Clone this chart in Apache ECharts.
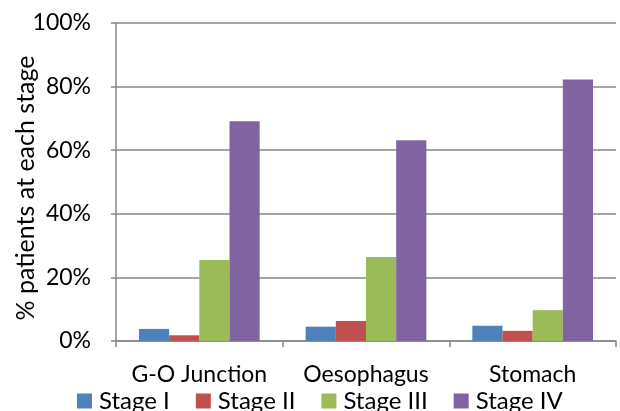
<!DOCTYPE html>
<html>
<head>
<meta charset="utf-8">
<script src="https://cdn.jsdelivr.net/npm/echarts@6/dist/echarts.min.js"></script>
<style>
  html, body { margin: 0; padding: 0; background: #fff; }
  #chart { width: 620px; height: 411px; }
</style>
</head>
<body>
<div id="chart"></div>
<script>
// Tumour site categories and stage distribution (% of patients)
const categories = ['G-O Junction', 'Oesophagus', 'Stomach'];
const stageNames = ['Stage I', 'Stage II', 'Stage III', 'Stage IV'];
const stageI   = [3.8, 4.5, 4.8];
const stageII  = [1.8, 6.3, 3.2];
const stageIII = [25.5, 26.4, 9.7];
const stageIV  = [69.1, 63.1, 82.2];
const yTicks = { min: 0, max: 100, step: 20 };

const colors = ['#4F81BD', '#C0504D', '#9BBB59', '#8064A2'];
const font = 'Lato, sans-serif';
const gridColor = '#878787';

const seriesValues = [stageI, stageII, stageIII, stageIV];

const chart = echarts.init(document.getElementById('chart'), null, { renderer: 'canvas' });
chart.setOption({
  animation: false,
  color: colors,
  grid: { left: 116, right: 4, top: 23, bottom: 70, containLabel: false, outerBoundsMode: 'none' },
  legend: {
    data: stageNames,
    left: 77,
    top: 389,
    padding: 0,
    itemWidth: 15,
    itemHeight: 15,
    itemGap: 26,
    icon: 'rect',
    textStyle: { fontFamily: font, fontSize: 24, color: '#000', padding: [0, 0, 0, 2] }
  },
  xAxis: {
    type: 'category',
    data: categories,
    axisLine: { lineStyle: { color: gridColor, width: 1.5 } },
    axisTick: { show: true, length: 6, lineStyle: { color: gridColor, width: 1.5 } },
    axisLabel: { interval: 0, fontFamily: font, fontSize: 23, color: '#000', margin: 22 }
  },
  yAxis: {
    type: 'value',
    min: yTicks.min,
    max: yTicks.max,
    interval: yTicks.step,
    name: '% patients at each stage',
    nameLocation: 'middle',
    nameGap: 78,
    nameMoveOverlap: false,
    nameTextStyle: { fontFamily: font, fontSize: 25, color: '#000', padding: [0, 12, 0, 0] },
    axisLine: { show: true, lineStyle: { color: gridColor, width: 1.5 } },
    axisTick: { show: true, length: 5, lineStyle: { color: gridColor, width: 1.5 } },
    axisLabel: { fontFamily: font, fontSize: 23, color: '#000', margin: 25, formatter: '{value}%' },
    splitLine: { lineStyle: { color: gridColor, width: 1.5 } }
  },
  series: stageNames.map((name, i) => ({
    name: name,
    type: 'bar',
    data: seriesValues[i],
    barGap: '0%',
    barCategoryGap: '27.6%',
    itemStyle: { color: colors[i] }
  }))
});
</script>
</body>
</html>
